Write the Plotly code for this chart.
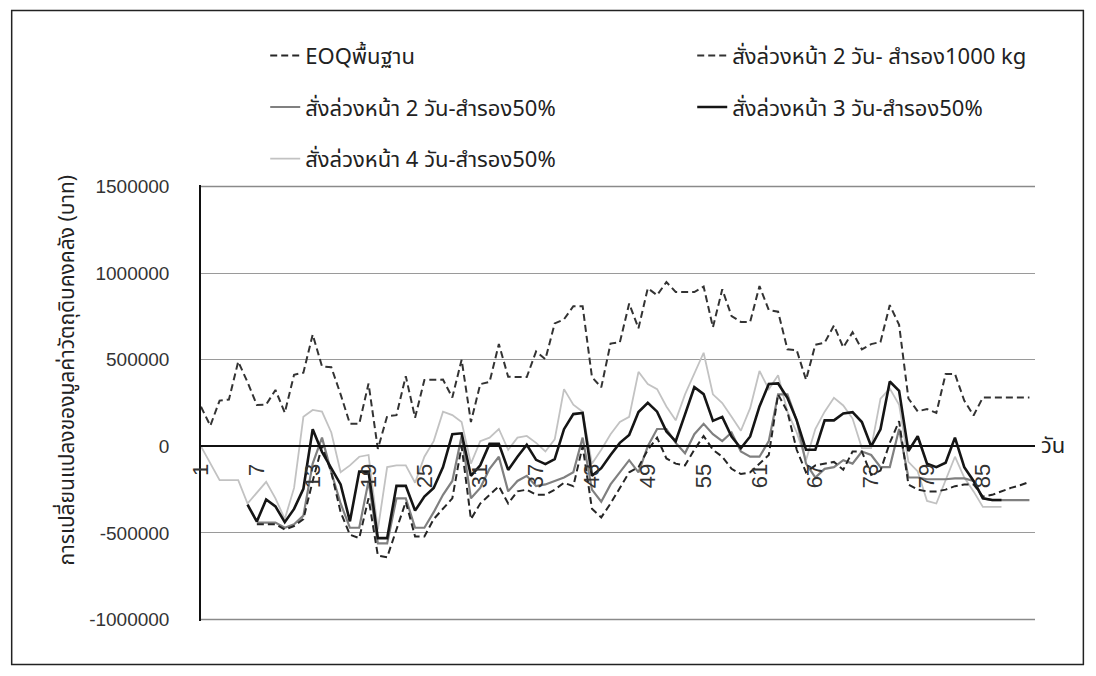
import plotly.graph_objects as go

# Day index of the simulation (categories on the x axis)
days = list(range(1, 91))
tick_days = [1, 7, 13, 19, 25, 31, 37, 43, 49, 55, 61, 67, 73, 79, 85]
y_ticks = [-1000000, -500000, 0, 500000, 1000000, 1500000]

# Change in raw-material inventory value (baht) per day, one list per policy
eoq_base = [None] * 6 + [
    -450000, -450000, -450000, -480000, -460000, -420000, -200000, 0, -150000,
    -380000, -510000, -530000, -300000, -630000, -640000, -480000, -320000, -520000, -520000,
    -420000, -360000, -300000, 0, -420000, -330000, -280000, -230000, -330000, -260000,
    -250000, -280000, -280000, -250000, -210000, -230000, 0, -360000, -410000, -330000,
    -240000, -150000, -120000, -20000, 50000, -70000, -100000, -110000, -20000, 60000,
    -20000, -60000, -130000, -160000, -150000, -100000, -50000, 300000, 200000, -20000,
    -150000, -110000, -100000, -90000, -135000, -30000, -30000, -165000, -140000, 20000,
    145000, -220000, -250000, -260000, -260000, -250000, -230000, -220000, -220000, -290000,
    -280000, -260000, -240000, -225000, -205000]

order2_reserve1000 = [
    228000, 119000, 264000, 270000, 489000, 370000, 239000, 241000, 325000, 194000,
    413000, 425000, 645000, 461000, 456000, 300000, 130000, 130000, 362000, -15000,
    174000, 180000, 405000, 165000, 383000, 385000, 385000, 282000, 500000, 140000,
    359000, 371000, 590000, 401000, 400000, 400000, 547000, 502000, 709000, 733000,
    809000, 809000, 400000, 340000, 593000, 600000, 824000, 681000, 912000, 872000,
    948000, 891000, 890000, 890000, 922000, 687000, 906000, 752000, 718000, 718000,
    925000, 787000, 777000, 560000, 555000, 384000, 586000, 598000, 697000, 571000,
    658000, 560000, 590000, 602000, 815000, 701000, 276000, 202000, 215000, 193000,
    417000, 418000, 264000, 178000, 282000, 282000, 282000, 282000, 282000, 282000]

order2_reserve50 = [None] * 6 + [
    -440000, -440000, -440000, -470000, -450000, -400000, -100000, 50000, -150000,
    -330000, -470000, -470000, -200000, -560000, -560000, -300000, -300000, -470000, -470000,
    -380000, -280000, -200000, 60000, -300000, -240000, -130000, -60000, -260000, -200000,
    -170000, -230000, -220000, -200000, -180000, -150000, 50000, -250000, -320000, -220000,
    -150000, -80000, -150000, 0, 100000, 100000, 20000, -40000, 70000, 130000,
    70000, 30000, 80000, -30000, -60000, -60000, 30000, 300000, 300000, 150000,
    -100000, -180000, -130000, -120000, -80000, -100000, -30000, -50000, -120000, -120000,
    100000, -180000, -180000, -190000, -190000, -190000, -185000, -185000, -200000, -300000,
    -310000, -310000, -310000, -310000, -310000]

order3_reserve50 = [None] * 5 + [
    -337000, -434000, -307000, -347000, -438000, -361000, -245000, 99000, -33000, -129000,
    -220000, -433000, -146000, -146000, -530000, -530000, -228000, -228000, -371000, -290000,
    -240000, -120000, 70000, 75000, -170000, -110000, 14000, 14000, -136000, -60000,
    9000, -78000, -103000, -74000, 99000, 186000, 192000, -170000, -126000, -50000,
    20000, 65000, 198000, 251000, 200000, 86000, 29000, 184000, 341000, 301000,
    147000, 170000, 56000, -11000, 57000, 230000, 360000, 363000, 280000, 150000,
    -20000, -20000, 150000, 150000, 190000, 197000, 140000, 0, 98000, 374000,
    320000, -28000, 58000, -100000, -120000, -95000, 50000, -120000, -200000, -300000,
    -310000, -310000] + [None] * 3

order4_reserve50 = [
    0, -100000, -195000, -195000, -195000, -330000, -265000, -205000, -300000, -420000,
    -240000, 170000, 210000, 200000, 80000, -150000, -110000, -60000, -50000, -480000,
    -120000, -110000, -110000, -210000, -60000, 30000, 200000, 180000, 140000, -100000,
    30000, 50000, 100000, -20000, 50000, 60000, 20000, -30000, 40000, 330000,
    240000, 200000, -100000, -20000, 70000, 140000, 170000, 430000, 360000, 330000,
    230000, 150000, 300000, 420000, 540000, 300000, 250000, 170000, 90000, 220000,
    435000, 330000, 410000, 200000, 80000, -80000, 100000, 200000, 280000, 236000,
    160000, -10000, -10000, 275000, 333000, 240000, -90000, -145000, -315000, -330000,
    -200000, -60000, -180000, -260000, -350000, -350000, -350000] + [None] * 3

names = {
    "eoq": "EOQพื้นฐาน",
    "r1000": "สั่งล่วงหน้า 2 วัน- สำรอง1000 kg",
    "o2": "สั่งล่วงหน้า 2 วัน-สำรอง50%",
    "o3": "สั่งล่วงหน้า 3 วัน-สำรอง50%",
    "o4": "สั่งล่วงหน้า 4 วัน-สำรอง50%",
}

THAI = "Noto Sans Thai, Tahoma, Loma, Garuda, Noto Sans, DejaVu Sans, sans-serif"
NUM = "Liberation Sans, Arial, sans-serif"
GRID = "#9a9a9a"

fig = go.Figure()

# light grey (4 days ahead) drawn first so the darker lines sit on top
fig.add_trace(go.Scatter(x=days, y=order4_reserve50, mode="lines", name=names["o4"],
                         line=dict(color="#c2c2c2", width=1.8),
                         legend="legend", legendgroup="o4", legendrank=3))
fig.add_trace(go.Scatter(x=days, y=order2_reserve50, mode="lines", name=names["o2"],
                         line=dict(color="#808080", width=2.2),
                         legend="legend", legendgroup="o2", legendrank=2))
fig.add_trace(go.Scatter(x=days, y=eoq_base, mode="lines", name=names["eoq"],
                         line=dict(color="#262626", width=2, dash="7px,4px"),
                         legend="legend", legendgroup="eoq", legendrank=1))
fig.add_trace(go.Scatter(x=days, y=order2_reserve1000, mode="lines", name=names["r1000"],
                         line=dict(color="#333333", width=2, dash="7px,4px"),
                         legend="legend2", legendgroup="r1000", legendrank=1))
fig.add_trace(go.Scatter(x=days, y=order3_reserve50, mode="lines", name=names["o3"],
                         line=dict(color="#151515", width=2.6),
                         legend="legend2", legendgroup="o3", legendrank=2))

legend_style = dict(font=dict(family=THAI, size=22, color="#222"),
                    bgcolor="rgba(0,0,0,0)", tracegroupgap=20,
                    xanchor="left", yanchor="top", itemwidth=30)

# value range padded a little past the outer ticks so their rules stay inside
y_pad = 8000
zero_frac = (0 - (y_ticks[0] - y_pad)) / (y_ticks[-1] - y_ticks[0] + 2 * y_pad)

fig.update_layout(
    width=1096, height=676,
    margin=dict(l=201, r=61, t=185, b=55),
    paper_bgcolor="white", plot_bgcolor="white",
    showlegend=True,
    legend=dict(x=0.077, y=1.345, **legend_style),
    legend2=dict(x=0.589, y=1.345, **legend_style),
    xaxis=dict(
        range=[1, 90.6], tickmode="array", tickvals=tick_days,
        ticktext=[str(d) for d in tick_days],
        tickangle=-90, tickfont=dict(family=NUM, size=22, color="#333"),
        showgrid=False, zeroline=False, showline=True, linecolor="#111", linewidth=1.5,
        anchor="free", position=zero_frac, ticks="", ticklabelstandoff=8,
    ),
    yaxis=dict(
        range=[y_ticks[0] - y_pad, y_ticks[-1] + y_pad], tickmode="array", tickvals=y_ticks,
        ticktext=[str(v) for v in y_ticks],
        tickfont=dict(family=NUM, size=19, color="#333"),
        showgrid=True, gridcolor=GRID, gridwidth=1,
        zeroline=False, showline=True, linecolor="#111", linewidth=1.5,
        ticks="", ticklabelstandoff=26,
    ),
)

# explicit rules for the outermost ticks (1500000 and -1000000)
for edge in (y_ticks[0], y_ticks[-1]):
    fig.add_shape(type="line", xref="paper", yref="y", x0=0, x1=1, y0=edge, y1=edge,
                  line=dict(color="#8a8a8a", width=1.5), layer="above")

# axis caption for the day axis and the y-axis title
fig.add_annotation(text="วัน", xref="paper", yref="paper", x=1.005, y=zero_frac,
                   xanchor="left", yanchor="middle", showarrow=False,
                   font=dict(family=THAI, size=22, color="#222"))
fig.add_annotation(text="การเปลี่ยนแปลงของมูลค่าวัตถุดิบคงคลัง (บาท)",
                   xref="paper", yref="paper", x=-0.16, y=0.576, textangle=-90,
                   xanchor="center", yanchor="middle", showarrow=False,
                   font=dict(family=THAI, size=21, color="#222"))

# page frame around the whole chart
fig.add_shape(type="rect", xref="paper", yref="paper",
              x0=-0.227, x1=1.058, y0=-0.1, y1=1.4,
              line=dict(color="#222", width=1.5))

fig.write_html("out.html")
